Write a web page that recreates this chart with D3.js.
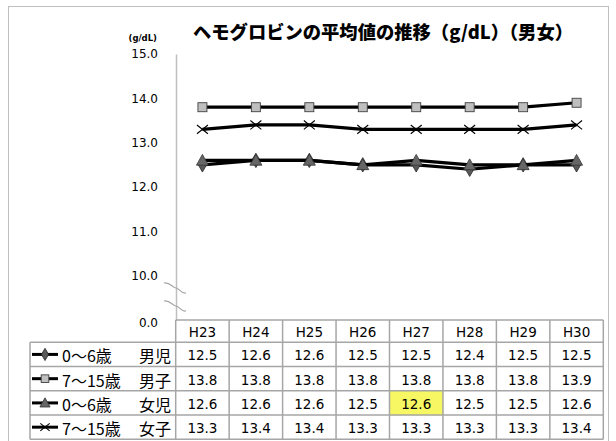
<!DOCTYPE html>
<html><head><meta charset="utf-8">
<script src="https://cdn.jsdelivr.net/npm/d3@7/dist/d3.min.js"></script>
<style>body{margin:0;background:#fff}svg{display:block}</style>
</head><body>
<svg id="c" width="616" height="441"></svg>
<script>
const categories = ["H23","H24","H25","H26","H27","H28","H29","H30"];
const seriesNames = [["0～6歳","男児"],["7～15歳","男子"],["0～6歳","女児"],["7～15歳","女子"]];
const boys06   = [12.5,12.6,12.6,12.5,12.5,12.4,12.5,12.5];
const boys715  = [13.8,13.8,13.8,13.8,13.8,13.8,13.8,13.9];
const girls06  = [12.6,12.6,12.6,12.5,12.6,12.5,12.5,12.6];
const girls715 = [13.3,13.4,13.4,13.3,13.3,13.3,13.3,13.4];
const yTicks = [9,10,11,12,13,14,15];
const yTickLabels = ["0.0","10.0","11.0","12.0","13.0","14.0","15.0"];
const title = "ヘモグロビンの平均値の推移（g/dL）（男女）";
const unit = "(g/dL)";

const series = [boys06, boys715, girls06, girls715];
const markers = ["diamond","square","triangle","x"];

const svg = d3.select("#c");
const num = "'DejaVu Sans', Verdana, sans-serif";
const jp = "'Noto Sans CJK JP', sans-serif";

// outer border
svg.append("rect").attr("x",8.5).attr("y",6.5).attr("width",600).attr("height",450)
  .attr("fill","none").attr("stroke","#bfbfbf").attr("stroke-width",1);

const x = d3.scaleBand().domain(categories).range([175.7,603.3]);
const y = d3.scaleLinear().domain([9,15]).range([320,54]);
const cx = d => x(d) + x.bandwidth()/2;

// title
svg.append("text").attr("x",383).attr("y",31).attr("text-anchor","middle")
  .attr("dominant-baseline","central")
  .attr("font-family",jp).attr("font-weight","900")
  .attr("font-size",18).attr("textLength",380).attr("lengthAdjust","spacingAndGlyphs")
  .text(title);
svg.append("text").attr("x",157).attr("y",41).attr("text-anchor","end")
  .attr("font-family",num).attr("font-weight","bold").attr("font-size",8.5).text(unit);

// y axis
const ax = svg.append("g").attr("transform","translate(176,0)")
  .call(d3.axisLeft(y).tickValues(yTicks).tickSize(0).tickPadding(18)
    .tickFormat((d,i)=>yTickLabels[i]));
ax.select(".domain").attr("stroke","#bfbfbf").attr("stroke-width",1.5);
ax.selectAll("text").attr("font-family",num).attr("font-size",12).attr("fill","#000");
ax.selectAll(".tick").filter(d=>d===9).select("text").attr("dy","0.55em");

// break marks
[288,306].forEach(yy=>{
  svg.append("path").attr("d",`M164,${yy-5} C170,${yy-6} 173,${yy} 176,${yy} C179,${yy} 181,${yy+6} 186,${yy+5}`)
    .attr("fill","none").attr("stroke","#a6a6a6").attr("stroke-width",1.2);
});

function drawMarker(g, type, px, py, s){
  s = s||1;
  if(type==="diamond"){
    g.append("path").attr("d",d3.symbol(d3.symbolDiamond, 60*s*s)()).attr("transform",`translate(${px},${py})`)
     .attr("fill","#595959").attr("stroke","#262626").attr("stroke-width",0.8);
  } else if(type==="square"){
    const h=4.5*s;
    g.append("rect").attr("x",px-h).attr("y",py-h).attr("width",2*h).attr("height",2*h)
     .attr("fill","#bfbfbf").attr("stroke","#404040").attr("stroke-width",0.9);
  } else if(type==="triangle"){
    const h=6*s;
    g.append("path").attr("d",`M${px},${py-h} L${px+h},${py+h*0.8} L${px-h},${py+h*0.8}Z`)
     .attr("fill","#666666").attr("stroke","#333").attr("stroke-width",0.8);
  } else {
    const h=5.5*s;
    g.append("path").attr("d",`M${px-h},${py-h*0.8} L${px+h},${py+h*0.8} M${px-h},${py+h*0.8} L${px+h},${py-h*0.8}`)
     .attr("stroke","#000").attr("stroke-width",1.1).attr("fill","none");
  }
}

// lines
const line = d3.line().x((d,i)=>cx(categories[i])).y(d=>y(d));
const plot = svg.append("g");
series.forEach((s,k)=>{
  const g = plot.append("g");
  g.append("path").attr("d",line(s)).attr("fill","none").attr("stroke","#000").attr("stroke-width",3.2);
  s.forEach((v,i)=>drawMarker(g, markers[k], cx(categories[i]), y(v)));
});

// table
const rowTop = 342.3, rowH = 24.25, headTop = 320;
const tbl = svg.append("g");
// highlight cell H27 row3
tbl.append("rect").attr("x",x("H27")).attr("y",rowTop+2*rowH).attr("width",x.bandwidth()).attr("height",rowH)
  .attr("fill","#f7f763").attr("stroke","#e6e64d").attr("stroke-dasharray","1,1");
const gridC = "#a6a6a6";
const x0 = 175.7, x1 = 603.3, lx = 30;
tbl.append("line").attr("x1",x0).attr("x2",x1).attr("y1",headTop).attr("y2",headTop).attr("stroke",gridC).attr("stroke-width",1.5);
for(let r=0;r<=4;r++){
  const yy = rowTop + r*rowH;
  tbl.append("line").attr("x1",lx).attr("x2",x1).attr("y1",yy).attr("y2",yy).attr("stroke",gridC).attr("stroke-width",1.5);
}
tbl.append("line").attr("x1",lx).attr("x2",lx).attr("y1",rowTop).attr("y2",rowTop+4*rowH).attr("stroke",gridC).attr("stroke-width",1.5);
categories.forEach(c=>{
  tbl.append("line").attr("x1",x(c)).attr("x2",x(c)).attr("y1",headTop).attr("y2",rowTop+4*rowH).attr("stroke",gridC).attr("stroke-width",1.5);
});
tbl.append("line").attr("x1",x1).attr("x2",x1).attr("y1",headTop).attr("y2",rowTop+4*rowH).attr("stroke",gridC).attr("stroke-width",1.5);
categories.forEach(c=>{
  tbl.append("text").attr("x",cx(c)).attr("y",(headTop+rowTop)/2+1).attr("text-anchor","middle")
    .attr("dominant-baseline","central").attr("font-family",num).attr("font-size",13.5).text(c);
});
series.forEach((s,k)=>{
  const cy = rowTop + k*rowH + rowH/2;
  s.forEach((v,i)=>{
    tbl.append("text").attr("x",cx(categories[i])).attr("y",cy+1).attr("text-anchor","middle")
      .attr("dominant-baseline","central").attr("font-family",num).attr("font-size",13.5).text(v.toFixed(1));
  });
  tbl.append("line").attr("x1",32).attr("x2",58).attr("y1",cy).attr("y2",cy).attr("stroke","#000").attr("stroke-width",3);
  drawMarker(tbl, markers[k], 45, cy, 0.85);
  tbl.append("text").attr("x",62).attr("y",cy+1).attr("dominant-baseline","central")
    .attr("font-family",jp).attr("font-size",16).text(seriesNames[k][0]);
  tbl.append("text").attr("x",171).attr("y",cy+1).attr("text-anchor","end").attr("dominant-baseline","central")
    .attr("font-family",jp).attr("font-size",16).text(seriesNames[k][1]);
});
</script>
</body></html>
